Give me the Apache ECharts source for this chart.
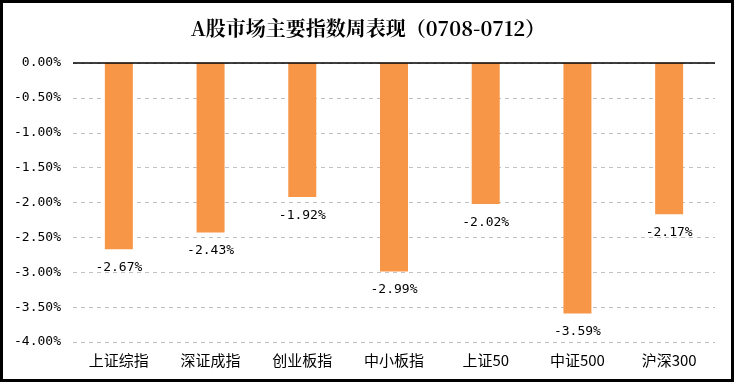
<!DOCTYPE html>
<html><head><meta charset="utf-8">
<script src="https://cdn.jsdelivr.net/npm/echarts@6/dist/echarts.min.js"></script>
<style>html,body{margin:0;padding:0;background:#fff}#c{width:736px;height:385px}</style>
</head><body><div id="c"></div>
<script>
const categories = ['上证综指','深证成指','创业板指','中小板指','上证50','中证500','沪深300'];
const values = [-2.67,-2.43,-1.92,-2.99,-2.02,-3.59,-2.17];
const titleText = 'A股市场主要指数周表现（0708-0712）';

const chart = echarts.init(document.getElementById('c'));
const fontF = '"Noto Sans CJK SC", "SimSun", sans-serif';
const monoF = '"DejaVu Sans Mono", monospace';
chart.setOption({
  animation:false,
  backgroundColor:'#fff',
  graphic:[{type:'rect',shape:{x:1.5,y:1.5,width:731,height:379},style:{fill:'none',stroke:'#000',lineWidth:3},z:100}],
  title:{text:titleText,left:'center',top:13,textStyle:{fontFamily:'"Noto Serif CJK SC","Noto Sans CJK SC",serif',fontWeight:'bold',fontSize:20,color:'#000'}},
  grid:{left:73,right:21,top:63,bottom:43,containLabel:false},
  xAxis:{type:'category',data:categories,position:'bottom',
    axisLine:{show:false},axisTick:{show:false},
    axisLabel:{fontFamily:fontF,fontSize:15,color:'#000',margin:11}},
  yAxis:{type:'value',min:-4,max:0,interval:0.5,
    axisLine:{show:false},axisTick:{show:false},
    axisLabel:{fontFamily:monoF,fontSize:13,color:'#000',margin:12,formatter:v=>v.toFixed(2)+'%'},
    splitLine:{lineStyle:{type:[4,4],color:'#c0c0c0',width:1}}},
  series:[{type:'bar',data:values,barWidth:28,
    itemStyle:{color:'#F79646'},
    label:{show:true,position:'bottom',distance:12,fontFamily:monoF,fontSize:13,color:'#000',formatter:p=>p.value.toFixed(2)+'%'},
    markLine:{silent:true,symbol:'none',label:{show:false},lineStyle:{color:'#000',type:'solid',width:1.5},data:[{yAxis:0}]}
  }]
});
</script></body></html>
